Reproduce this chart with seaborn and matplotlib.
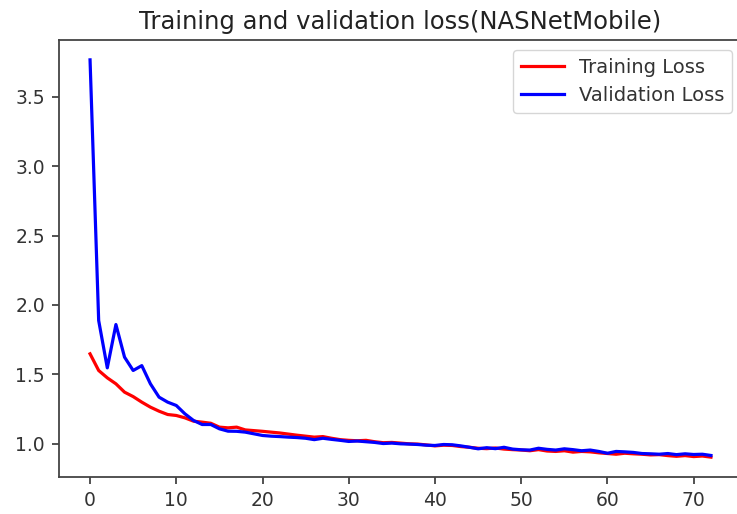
import matplotlib
matplotlib.use("Agg")
import matplotlib.pyplot as plt
import seaborn as sns
import pandas as pd

epochs = list(range(73))
training_loss = [
    1.648, 1.528, 1.475, 1.432, 1.372, 1.340, 1.300, 1.264, 1.235, 1.211,
    1.204, 1.187, 1.163, 1.156, 1.148, 1.120, 1.115, 1.120, 1.100, 1.095,
    1.090, 1.084, 1.078, 1.070, 1.062, 1.055, 1.048, 1.052, 1.040, 1.030,
    1.025, 1.022, 1.025, 1.015, 1.008, 1.010, 1.005, 1.000, 0.998, 0.992,
    0.985, 0.990, 0.988, 0.980, 0.975, 0.968, 0.965, 0.970, 0.962, 0.958,
    0.955, 0.950, 0.958, 0.948, 0.945, 0.950, 0.940, 0.945, 0.942, 0.935,
    0.930, 0.925, 0.932, 0.928, 0.925, 0.920, 0.922, 0.915, 0.910, 0.915,
    0.908, 0.912, 0.904,
]
validation_loss = [
    3.765, 1.888, 1.547, 1.859, 1.624, 1.528, 1.563, 1.432, 1.336, 1.300,
    1.276, 1.216, 1.168, 1.139, 1.139, 1.108, 1.091, 1.090, 1.084, 1.072,
    1.060, 1.055, 1.052, 1.048, 1.045, 1.040, 1.030, 1.040, 1.032, 1.025,
    1.017, 1.020, 1.015, 1.010, 1.002, 1.005, 1.000, 0.998, 0.995, 0.990,
    0.988, 0.995, 0.993, 0.985, 0.975, 0.964, 0.972, 0.965, 0.975, 0.962,
    0.957, 0.955, 0.968, 0.960, 0.955, 0.964, 0.958, 0.950, 0.955, 0.945,
    0.932, 0.945, 0.942, 0.938, 0.930, 0.928, 0.925, 0.930, 0.922, 0.928,
    0.923, 0.925, 0.916,
]
series_labels = ["Training Loss", "Validation Loss"]
title = "Training and validation loss(NASNetMobile)"

df = pd.DataFrame({
    "epoch": epochs * 2,
    "loss": training_loss + validation_loss,
    "series": [series_labels[0]] * len(epochs) + [series_labels[1]] * len(epochs),
})

plt.rcParams["font.family"] = ["DejaVu Sans"]
fig = plt.figure(figsize=(7.37, 5.14), dpi=100)
ax = fig.add_axes([59 / 737, 37 / 514, 683 / 737, 437 / 514])

sns.lineplot(data=df, x="epoch", y="loss", hue="series",
             palette={series_labels[0]: "red", series_labels[1]: "blue"},
             linewidth=2.3, ax=ax, legend=True)

ax.set_xlabel("")
ax.set_ylabel("")
ax.set_title(title, fontsize=17.5, color="#222222", pad=7.7)
ax.set_xticks([0, 10, 20, 30, 40, 50, 60, 70])
ax.set_yticks([1.0, 1.5, 2.0, 2.5, 3.0, 3.5])
ax.tick_params(labelsize=13.5, colors="#333333", length=5.2, width=1.2, pad=5)
for s in ax.spines.values():
    s.set_color("#444444")
    s.set_linewidth(1.3)
ax.spines["right"].set_visible(False)
leg = ax.legend(loc="upper right", fontsize=14, frameon=True, handlelength=2.2)
for t in leg.get_texts():
    t.set_color("#333333")

fig.savefig("out.png", dpi=100)
